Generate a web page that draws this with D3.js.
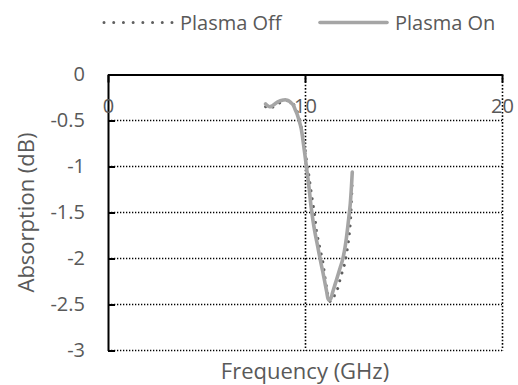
<!DOCTYPE html>
<html>
<head>
<meta charset="utf-8">
<script src="https://cdn.jsdelivr.net/npm/d3@7"></script>
<style>
  html, body { margin: 0; padding: 0; background: #fff; }
  svg { display: block; }
  text { font-family: "Open Sans", "Noto Sans", sans-serif; fill: #595959; }
</style>
</head>
<body>
<svg id="chart" width="518" height="385"></svg>
<script>
// Frequency sweep (GHz) shared by both measurements
const frequency = [8.0, 8.1, 8.2, 8.3, 8.4, 8.5, 8.6, 8.7, 8.8, 8.9,
                   9.0, 9.1, 9.2, 9.3, 9.4, 9.5, 9.6, 9.7, 9.8, 9.9,
                   10.0, 10.1, 10.2, 10.3, 10.4, 10.5, 10.6, 10.7, 10.8, 10.9,
                   11.0, 11.1, 11.2, 11.3, 11.4, 11.5, 11.6, 11.7, 11.8, 11.9,
                   12.0, 12.1, 12.2, 12.3, 12.4];
// Absorption (dB)
const plasmaOff = [-0.35, -0.365, -0.37, -0.36, -0.35, -0.335, -0.32, -0.31, -0.30, -0.29,
                   -0.285, -0.285, -0.29, -0.30, -0.32, -0.35, -0.40, -0.47, -0.56, -0.68,
                   -0.82, -0.96, -1.10, -1.26, -1.40, -1.55, -1.72, -1.83, -1.93, -2.03,
                   -2.18, -2.32, -2.43, -2.47, -2.44, -2.40, -2.36, -2.30, -2.21, -2.14,
                   -2.07, -1.96, -1.82, -1.62, -1.15];
const plasmaOn  = [-0.32, -0.34, -0.35, -0.345, -0.33, -0.315, -0.30, -0.29, -0.283, -0.278,
                   -0.275, -0.28, -0.29, -0.31, -0.33, -0.38, -0.43, -0.50, -0.58, -0.72,
                   -0.88, -1.05, -1.22, -1.42, -1.58, -1.71, -1.82, -1.93, -2.04, -2.14,
                   -2.25, -2.36, -2.45, -2.44, -2.37, -2.30, -2.23, -2.16, -2.09, -2.02,
                   -1.92, -1.78, -1.60, -1.40, -1.06];
const seriesNames = ["Plasma Off", "Plasma On"];
const xTicks = [0, 10, 20];
const yTicks = [0, -0.5, -1, -1.5, -2, -2.5, -3];
const xTitle = "Frequency (GHz)";
const yTitle = "Absorption (dB)";

const svg = d3.select("#chart");
const plotLeft = 108, plotRight = 502, plotTop = 74.5, plotBottom = 350.5;

const x = d3.scaleLinear().domain([0, 20]).range([plotLeft, plotRight]);
const y = d3.scaleLinear().domain([0, -3]).range([plotTop, plotBottom]);
const label = d => String(d);   // plain hyphen for negatives

// dotted gridlines
const grid = svg.append("g");
grid.selectAll("line.h")
  .data(yTicks.filter(v => v !== 0))
  .join("line")
  .attr("class", "h")
  .attr("x1", plotLeft).attr("x2", plotRight)
  .attr("y1", d => y(d)).attr("y2", d => y(d))
  .attr("stroke", "#000").attr("stroke-width", 1.3)
  .attr("stroke-dasharray", "1.3,1.7");
grid.selectAll("line.v")
  .data(xTicks.filter(v => v !== 0))
  .join("line")
  .attr("class", "v")
  .attr("x1", d => Math.round(x(d)) + 0.5).attr("x2", d => Math.round(x(d)) + 0.5)
  .attr("y1", plotTop).attr("y2", plotBottom)
  .attr("stroke", "#000").attr("stroke-width", 1.6)
  .attr("stroke-dasharray", "1.6,1.8");

// series
const line = d3.line()
  .x((d, i) => x(frequency[i]))
  .y(d => y(d))
  .curve(d3.curveCatmullRom.alpha(0.5));

svg.append("path")
  .attr("d", line(plasmaOff))
  .attr("fill", "none")
  .attr("stroke", "#5f5f5f")
  .attr("stroke-width", 3)
  .attr("stroke-linecap", "round")
  .attr("stroke-dasharray", "0.01,8");

svg.append("path")
  .attr("d", line(plasmaOn))
  .attr("fill", "none")
  .attr("stroke", "#a5a5a5")
  .attr("stroke-width", 3.6)
  .attr("stroke-linecap", "round")
  .attr("stroke-linejoin", "round");

// y axis (left), ticks pointing inward
const yAxis = svg.append("g")
  .attr("transform", `translate(${plotLeft},0)`)
  .call(d3.axisLeft(y).tickValues(yTicks).tickSizeInner(-7).tickSizeOuter(0)
    .tickPadding(23).tickFormat(label));
yAxis.attr("font-family", null).attr("font-size", null);
yAxis.select(".domain").attr("stroke", "#000").attr("stroke-width", 2);
yAxis.selectAll(".tick line").attr("stroke", "#000").attr("stroke-width", 2);
yAxis.selectAll(".tick text").attr("font-size", 20).attr("fill", "#595959");

// x axis crossing at 0 dB (top), ticks pointing down
const xAxis = svg.append("g")
  .attr("transform", `translate(0,${plotTop})`)
  .call(d3.axisBottom(x).tickValues(xTicks).tickSizeInner(8).tickSizeOuter(0)
    .tickPadding(16).tickFormat(label));
xAxis.attr("font-family", null).attr("font-size", null);
xAxis.select(".domain").attr("stroke", "#000").attr("stroke-width", 2);
xAxis.selectAll(".tick line").attr("stroke", "#000").attr("stroke-width", 2);
xAxis.selectAll(".tick text").attr("font-size", 20).attr("fill", "#595959");

// axis titles
svg.append("text")
  .attr("x", (plotLeft + plotRight) / 2).attr("y", 379)
  .attr("text-anchor", "middle")
  .attr("font-size", 22)
  .text(xTitle);
svg.append("text")
  .attr("transform", `translate(34,${(plotTop + plotBottom) / 2}) rotate(-90)`)
  .attr("text-anchor", "middle")
  .attr("font-size", 22)
  .text(yTitle);

// legend
const legend = svg.append("g");
legend.append("line")
  .attr("x1", 104).attr("x2", 172).attr("y1", 22.5).attr("y2", 22.5)
  .attr("stroke", "#5f5f5f").attr("stroke-width", 3)
  .attr("stroke-linecap", "round").attr("stroke-dasharray", "0.01,9.7");
legend.append("text")
  .attr("x", 180).attr("y", 29.5).attr("font-size", 20)
  .text(seriesNames[0]);
legend.append("line")
  .attr("x1", 320).attr("x2", 387).attr("y1", 22.5).attr("y2", 22.5)
  .attr("stroke", "#a5a5a5").attr("stroke-width", 3.6)
  .attr("stroke-linecap", "round");
legend.append("text")
  .attr("x", 395).attr("y", 29.5).attr("font-size", 20)
  .text(seriesNames[1]);
</script>
</body>
</html>
